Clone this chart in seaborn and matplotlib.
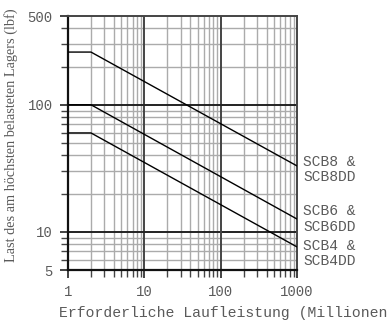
import pandas as pd
import matplotlib
matplotlib.use("Agg")
import matplotlib.pyplot as plt
import seaborn as sns
from matplotlib.ticker import FixedLocator, NullFormatter

# Lebensdauer (Millionen) und Last (lbf)
laufleistung = [1, 2, 1000]
scb8 = [260, 260, 33]
scb6 = [100, 100, 12.6]
scb4 = [60, 60, 7.6]
namen = ["SCB8 &\nSCB8DD", "SCB6 &\nSCB6DD", "SCB4 &\nSCB4DD"]
label_y = [30.8, 12.6, 6.7]

df = pd.concat([
    pd.DataFrame({"x": laufleistung, "last": scb8, "typ": "SCB8"}),
    pd.DataFrame({"x": laufleistung, "last": scb6, "typ": "SCB6"}),
    pd.DataFrame({"x": laufleistung, "last": scb4, "typ": "SCB4"}),
])

sns.set_style("white")
plt.rcParams["font.family"] = ["Liberation Mono", "DejaVu Sans"]

fig = plt.figure(figsize=(3.88, 3.25), dpi=100)
ax = fig.add_axes([68 / 388, 1 - 270 / 325, 229 / 388, 254 / 325])

ax.set_xscale("log")
ax.set_yscale("log")
ax.set_xlim(1, 1000)
ax.set_ylim(5, 500)

# Gitter
x_minor = [m * 10 ** e for e in range(0, 3) for m in range(2, 10)]
y_minor = [6, 7, 8, 9, 20, 30, 40, 50, 60, 70, 80, 90, 200, 300, 400]
for v in x_minor:
    ax.axvline(v, color="#ababab", lw=1.0, zorder=1)
for v in y_minor:
    ax.axhline(v, color="#ababab", lw=1.0, zorder=1)
for v in [10, 100]:
    ax.axvline(v, color="#444444", lw=1.4, zorder=2)
    ax.axhline(v, color="#222222", lw=1.4, zorder=2)

sns.lineplot(data=df, x="x", y="last", hue="typ",
             palette=["black", "black", "black"], legend=False,
             lw=1.0, ax=ax, zorder=3)

for name, y in zip(namen, label_y):
    ax.annotate(name, xy=(1000, y), xytext=(4.5, 0), textcoords="offset points",
                ha="left", va="center", fontsize=10.5, color="#5a5a5a",
                linespacing=1.1, annotation_clip=False)

ax.xaxis.set_major_locator(FixedLocator([1, 10, 100, 1000]))
ax.set_xticklabels(["1", "10", "100", "1000"])
ax.xaxis.set_minor_locator(FixedLocator(x_minor))
ax.xaxis.set_minor_formatter(NullFormatter())
ax.yaxis.set_major_locator(FixedLocator([5, 10, 100, 500]))
ax.set_yticklabels(["5", "10", "100", "500"])
ax.yaxis.set_minor_locator(FixedLocator(y_minor))
ax.yaxis.set_minor_formatter(NullFormatter())

ax.tick_params(axis="both", which="major", direction="out", length=6,
               width=1.2, color="#222222", labelsize=10, labelcolor="#5a5a5a",
               pad=5, left=True, bottom=True)
ax.tick_params(axis="both", which="minor", direction="out", length=5,
               width=1.0, color="#444444", left=True, bottom=True)

for side in ["left", "bottom"]:
    ax.spines[side].set_color("#111111")
    ax.spines[side].set_linewidth(1.6)
for side in ["top", "right"]:
    ax.spines[side].set_color("#444444")
    ax.spines[side].set_linewidth(1.4)

ax.set_xlabel("")
ax.set_ylabel("")
fig.text(59 / 388, 1 - 313 / 325, "Erforderliche Laufleistung (Millionen",
         ha="left", va="center", fontsize=10.6, color="#5a5a5a")
fig.text(11 / 388, 1 - 135 / 325, "Last des am höchsten belasteten Lagers (lbf)",
         rotation=90, ha="center", va="center", fontsize=10.3, color="#5a5a5a",
         family=["Liberation Serif", "DejaVu Serif"])

fig.savefig("out.png", dpi=100)
